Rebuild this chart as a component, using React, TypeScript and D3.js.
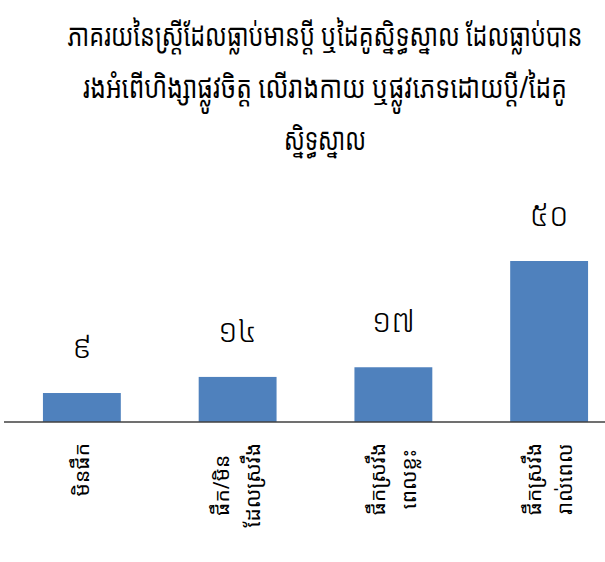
import { useEffect, useRef } from 'react';
import * as d3 from 'd3';

const categories = ['c1', 'c2', 'c3', 'c4'];
const categoryLines = [
  ['មិនផឹក'],
  ['ផឹក/មិន', 'ដែលស្រវឹង'],
  ['ផឹកស្រវឹង', 'ពេលខ្លះ'],
  ['ផឹកស្រវឹង', 'រាល់ពេល'],
];
const values = [9, 14, 17, 50];
const valueLabels = ['៩', '១៤', '១៧', '៥០'];
const titleLines = [
  'ភាគរយនៃស្ត្រីដែលធ្លាប់មានប្ដី ឬដៃគូស្និទ្ធស្នាល ដែលធ្លាប់បាន',
  'រងអំពើហិង្សាផ្លូវចិត្ត លើរាងកាយ ឬផ្លូវភេទដោយប្ដី/ដៃគូ',
  'ស្និទ្ធស្នាល',
];
// width each title line takes in the original
const titleWidths = [515, 484, 82];

const W = 605;
const H = 562;
const FONT = '"Khmer OS", "Noto Sans Khmer", "Noto Serif Khmer", "Khmer OS System", sans-serif';

export default function App() {
  const ref = useRef<SVGSVGElement>(null);

  useEffect(() => {
    if (!ref.current) return;
    const svg = d3.select(ref.current);
    svg.selectAll('*').remove();

    const baseY = 422;
    const x = d3.scaleBand<string>()
      .domain(categories)
      .range([4, 627])
      .paddingInner(0.5)
      .paddingOuter(0.25);
    const y = d3.scaleLinear().domain([0, 50]).range([baseY, 261]);

    // title - the original font is narrow, so squeeze each line to its width
    titleLines.forEach((line, i) => {
      const g = svg.append('g');
      const t = g.append('text')
        .attr('text-anchor', 'middle')
        .style('font-family', FONT)
        .style('font-size', '31px')
        .attr('fill', '#000')
        .text(line);
      const len = (t.node() as SVGTextElement).getComputedTextLength();
      g.attr('transform', `translate(325,${46 + i * 52}) scale(${titleWidths[i] / len},1)`);
    });

    // bars
    svg.append('g')
      .selectAll('rect')
      .data(values)
      .join('rect')
      .attr('x', (_, i) => x(categories[i])!)
      .attr('y', d => y(d))
      .attr('width', x.bandwidth())
      .attr('height', d => baseY - y(d))
      .attr('fill', '#4f81bd');

    // value labels
    svg.append('g')
      .selectAll('text')
      .data(values)
      .join('text')
      .attr('x', (_, i) => x(categories[i])! + x.bandwidth() / 2)
      .attr('y', d => y(d) - 35)
      .attr('text-anchor', 'middle')
      .style('font-family', FONT)
      .style('font-size', '32px')
      .style('font-weight', 300)
      .attr('fill', '#000')
      .text((_, i) => valueLabels[i]);

    // axis line
    svg.append('line')
      .attr('x1', 4).attr('x2', W)
      .attr('y1', baseY).attr('y2', baseY)
      .attr('stroke', '#404040')
      .attr('stroke-width', 1.5);

    // category labels, rotated
    const lineH = 31;
    categoryLines.forEach((lines, i) => {
      const cx = x(categories[i])! + x.bandwidth() / 2;
      const g = svg.append('g')
        .attr('transform', `translate(${cx + 7 - ((lines.length - 1) * lineH) / 2},443) rotate(-90)`);
      const texts = g.selectAll('text')
        .data(lines)
        .join('text')
        .attr('y', (_, j) => j * lineH)
        .attr('text-anchor', 'middle')
        .style('font-family', FONT)
        .style('font-size', '21px')
        .attr('fill', '#000')
        .text(d => d);
      let maxLen = 0;
      texts.each(function () {
        maxLen = Math.max(maxLen, (this as SVGTextElement).getComputedTextLength());
      });
      texts.attr('x', -maxLen / 2);
    });
  }, []);

  return (
    <svg
      ref={ref}
      width={W}
      height={H}
      style={{ position: 'absolute', left: 0, top: 0, display: 'block', background: '#fff' }}
    />
  );
}
